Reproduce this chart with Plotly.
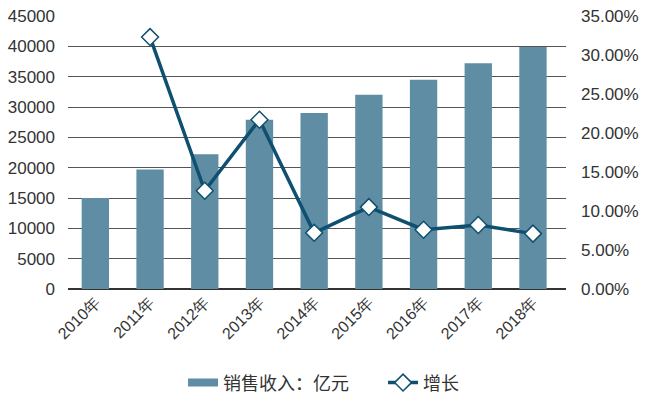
import plotly.graph_objects as go

years = ["2010年", "2011年", "2012年", "2013年", "2014年", "2015年", "2016年", "2017年", "2018年"]
sales = [15000, 19700, 22200, 27900, 29000, 32000, 34500, 37200, 39900]
growth_years = ["2011年", "2012年", "2013年", "2014年", "2015年", "2016年", "2017年", "2018年"]
growth = [0.323, 0.126, 0.217, 0.072, 0.105, 0.076, 0.082, 0.071]

BAR_COLOR = "#5f8ea4"
LINE_COLOR = "#0f5070"

fig = go.Figure()
fig.add_trace(go.Bar(
    x=years, y=sales, name="销售收入：亿元",
    marker=dict(color=BAR_COLOR, line=dict(width=0)),
    width=0.5, yaxis="y", showlegend=False,
))
# legend-only entry with a wide swatch for the bars
fig.add_trace(go.Scatter(
    x=[None], y=[None], name="销售收入：亿元", mode="lines",
    line=dict(color=BAR_COLOR, width=8), yaxis="y", showlegend=True,
))
fig.add_trace(go.Scatter(
    x=growth_years, y=growth, name="增长", mode="lines+markers", yaxis="y2",
    line=dict(color=LINE_COLOR, width=3.5),
    marker=dict(symbol="diamond", size=13, color="white", line=dict(color=LINE_COLOR, width=1.5)),
))

font = "Liberation Sans, Arial, sans-serif"
fig.update_layout(
    width=647, height=413,
    margin=dict(l=68, r=81, t=16, b=115),
    paper_bgcolor="white", plot_bgcolor="white",
    font=dict(family=font, size=17, color="#333333"),
    xaxis=dict(tickangle=-45, tickfont=dict(size=16, color="#333333"), showgrid=False,
               showline=False, ticks="", automargin=False),
    yaxis=dict(range=[0, 45000], dtick=5000, tickformat="d", showgrid=True, gridcolor="#555555", gridwidth=1,
               zeroline=True, zerolinecolor="#333333", zerolinewidth=1.5,
               tickfont=dict(size=17), ticks="", ticklabelstandoff=12, automargin=False,
               ticklabeloverflow="allow"),
    yaxis2=dict(range=[0, 0.35], dtick=0.05, tickformat=".2%", overlaying="y", side="right",
                showgrid=False, zeroline=False, tickfont=dict(size=17), ticks="", automargin=False,
                ticklabelstandoff=14, ticklabeloverflow="allow"),
    legend=dict(orientation="h", x=0.231, xanchor="left", y=-0.344, yanchor="middle",
                font=dict(size=18, family="Noto Sans CJK SC, sans-serif"), traceorder="normal",
                entrywidth=155),
    showlegend=True,
)

fig.write_html("out.html", config={"displayModeBar": False},
               post_script="document.body.style.margin='0';document.body.style.overflow='hidden';")
